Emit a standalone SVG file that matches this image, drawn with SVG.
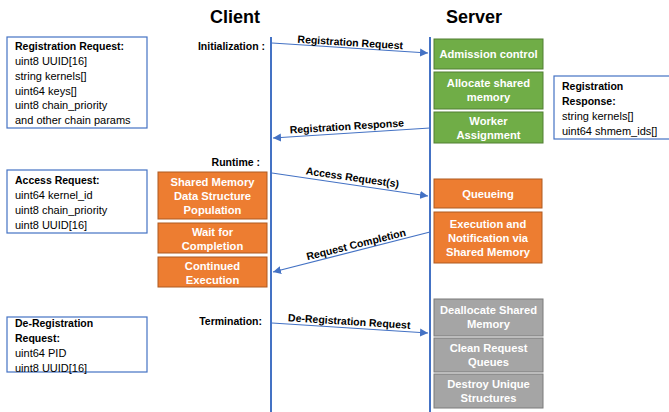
<svg xmlns="http://www.w3.org/2000/svg" width="669" height="412" viewBox="0 0 669 412">
<defs>
<marker id="ah" viewBox="0 0 10 10" refX="10" refY="5" markerWidth="8" markerHeight="8" markerUnits="userSpaceOnUse" orient="auto">
<path d="M0,0 L10,5 L0,10 z" fill="#4472C4"/>
</marker>
<style>
text{font-family:"Liberation Sans",Arial,sans-serif;font-size:11px;fill:#000}
.t{font-size:18px;font-weight:bold}
.b{font-weight:bold;font-size:10.5px}
.w{fill:#fff;font-weight:bold;text-anchor:middle;font-size:11.2px}
.note{fill:#fff;stroke:#4472C4;stroke-width:1.2}
.g{fill:#70AD47;stroke:#507E32;stroke-width:1}
.o{fill:#ED7D31;stroke:#AE5A21;stroke-width:1}
.gr{fill:#A5A5A5;stroke:#7B7B7B;stroke-width:1}
.life{stroke:#4472C4;stroke-width:2}
.msg{stroke:#4472C4;stroke-width:1.2;fill:none;marker-end:url(#ah)}
.lbl{font-weight:bold;text-anchor:middle;font-size:10.5px}
.ph{font-weight:bold;text-anchor:end;font-size:10.5px}
</style>
</defs>
<text class="t" x="235" y="23" text-anchor="middle">Client</text>
<text class="t" x="474" y="23" text-anchor="middle">Server</text>

<g id="lifelines">
<line class="life" x1="271" y1="37" x2="271" y2="412"/>
<line class="life" x1="430" y1="37" x2="430" y2="412"/>
</g>

<g id="phases">
<text class="ph" x="265" y="50">Initialization :</text>
<text class="ph" x="260" y="166">Runtime :</text>
<text class="ph" x="262" y="325">Termination:</text>
</g>

<g id="connectors">
<line class="msg" x1="272" y1="43" x2="428" y2="53"/>
<text class="lbl" transform="translate(350,46) rotate(3.6)">Registration Request</text>
<line class="msg" x1="430" y1="128" x2="273" y2="138"/>
<text class="lbl" transform="translate(347,130) rotate(-3.6)">Registration Response</text>
<line class="msg" x1="272" y1="173" x2="428" y2="196"/>
<text class="lbl" transform="translate(352,181) rotate(8.2)">Access Request(s)</text>
<line class="msg" x1="430" y1="232" x2="273" y2="272"/>
<text class="lbl" transform="translate(357,248) rotate(-14)">Request Completion</text>
<line class="msg" x1="272" y1="323" x2="428" y2="333"/>
<text class="lbl" transform="translate(349,325) rotate(3.6)">De-Registration Request</text>
</g>

<g id="reg-request">
<rect class="note" x="7" y="37" width="140" height="91"/>
<text x="15" y="50" class="b">Registration Request:</text>
<text x="15" y="65">uint8 UUID[16]</text>
<text x="15" y="80">string kernels[]</text>
<text x="15" y="95">uint64 keys[]</text>
<text x="15" y="109">uint8 chain_priority</text>
<text x="15" y="124">and other chain params</text>
</g>

<g id="reg-response">
<rect class="note" x="554" y="76" width="120" height="63"/>
<text x="562" y="90" class="b">Registration</text>
<text x="562" y="105" class="b">Response:</text>
<text x="562" y="120">string kernels[]</text>
<text x="562" y="135">uint64 shmem_ids[]</text>
</g>

<g id="access-request">
<rect class="note" x="7" y="170" width="140" height="63"/>
<text x="15" y="184" class="b">Access Request:</text>
<text x="15" y="199">uint64 kernel_id</text>
<text x="15" y="214">uint8 chain_priority</text>
<text x="15" y="229">uint8 UUID[16]</text>
</g>

<g id="dereg-request">
<rect class="note" x="7" y="317" width="140" height="55"/>
<text x="15" y="327" class="b">De-Registration</text>
<text x="15" y="342" class="b">Request:</text>
<text x="15" y="357">uint64 PID</text>
<text x="15" y="372">uint8 UUID[16]</text>
</g>

<g id="admission">
<rect class="g" x="434" y="39" width="109" height="30"/>
<text class="w" x="488.5" y="58">Admission control</text>
</g>
<g id="allocate">
<rect class="g" x="434" y="72" width="109" height="37"/>
<text class="w" x="488.5" y="87">Allocate shared</text>
<text class="w" x="488.5" y="101">memory</text>
</g>
<g id="worker">
<rect class="g" x="434" y="112" width="109" height="31"/>
<text class="w" x="488.5" y="125">Worker</text>
<text class="w" x="488.5" y="139">Assignment</text>
</g>

<g id="shm-pop">
<rect class="o" x="158" y="172" width="109" height="47"/>
<text class="w" x="212.5" y="186">Shared Memory</text>
<text class="w" x="212.5" y="200">Data Structure</text>
<text class="w" x="212.5" y="214">Population</text>
</g>
<g id="wait">
<rect class="o" x="158" y="223" width="109" height="30"/>
<text class="w" x="212.5" y="236">Wait for</text>
<text class="w" x="212.5" y="250">Completion</text>
</g>
<g id="continued">
<rect class="o" x="158" y="257" width="109" height="30"/>
<text class="w" x="212.5" y="270">Continued</text>
<text class="w" x="212.5" y="284">Execution</text>
</g>

<g id="queueing">
<rect class="o" x="434" y="179" width="108" height="29"/>
<text class="w" x="488" y="198">Queueing</text>
</g>
<g id="execution">
<rect class="o" x="434" y="212" width="108" height="51"/>
<text class="w" x="488" y="228">Execution and</text>
<text class="w" x="488" y="242">Notification via</text>
<text class="w" x="488" y="256">Shared Memory</text>
</g>

<g id="dealloc">
<rect class="gr" x="434" y="299" width="109" height="37"/>
<text class="w" x="488.5" y="314">Deallocate Shared</text>
<text class="w" x="488.5" y="328">Memory</text>
</g>
<g id="clean">
<rect class="gr" x="434" y="338" width="109" height="34"/>
<text class="w" x="488.5" y="352">Clean Request</text>
<text class="w" x="488.5" y="366">Queues</text>
</g>
<g id="destroy">
<rect class="gr" x="434" y="374" width="109" height="34"/>
<text class="w" x="488.5" y="388">Destroy Unique</text>
<text class="w" x="488.5" y="402">Structures</text>
</g>
</svg>
